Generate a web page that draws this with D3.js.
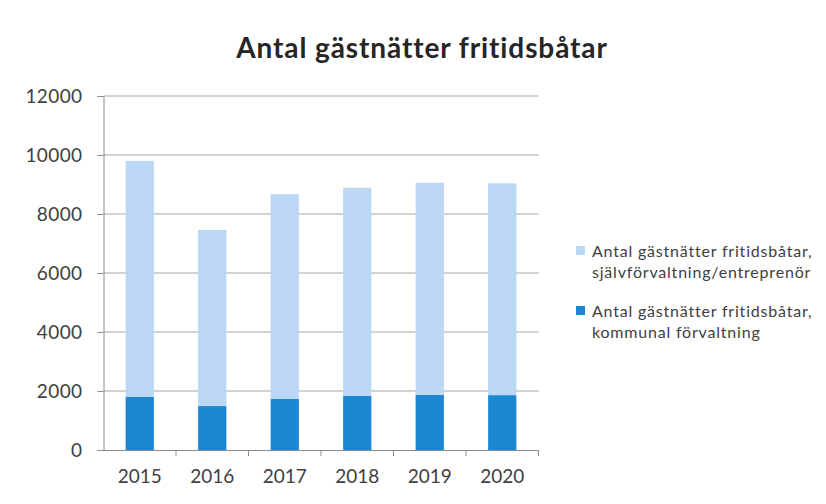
<!DOCTYPE html>
<html>
<head>
<meta charset="utf-8">
<script src="https://cdn.jsdelivr.net/npm/d3@7"></script>
<style>
  body { margin: 0; background: #fff; }
  text { font-family: Lato, "Open Sans", sans-serif; fill: #404040; }
</style>
</head>
<body>
<div id="chart"></div>
<script>
// data
let years = ["2015", "2016", "2017", "2018", "2019", "2020"];
let kommunal = [1800, 1490, 1730, 1830, 1870, 1860];
let sjalv = [8000, 5970, 6940, 7060, 7190, 7180];   // stacked on top of kommunal
let yTicks = [0, 2000, 4000, 6000, 8000, 10000, 12000];
let seriesNames = [
  ["Antal gästnätter fritidsbåtar,", "självförvaltning/entreprenör"],
  ["Antal gästnätter fritidsbåtar,", "kommunal förvaltning"]
];
let colors = ["#bcd6f5", "#1b87d3"];

let width = 826, height = 504;
let plotLeft = 103.5, plotRight = 538.5, plotTop = 96, plotBottom = 450;

let svg = d3.select("#chart").append("svg")
  .attr("width", width).attr("height", height);

let x = d3.scaleBand().domain(years).range([plotLeft, plotRight]);
let y = d3.scaleLinear().domain([0, 12000]).range([plotBottom, plotTop]);
let barW = x.bandwidth() * 0.39;

// title
svg.append("text")
  .attr("x", 422).attr("y", 58)
  .attr("text-anchor", "middle")
  .style("font-size", "28px").style("font-weight", "bold")
  .style("letter-spacing", "0.9px")
  .style("fill", "#262626")
  .text("Antal gästnätter fritidsbåtar");

// gridlines
svg.append("g").selectAll("line").data(yTicks.slice(1)).enter().append("line")
  .attr("x1", plotLeft).attr("x2", plotRight)
  .attr("y1", d => y(d)).attr("y2", d => y(d))
  .attr("stroke", "#a6a6a6").attr("stroke-width", 1);

// bars
let rows = years.map((yr, i) => ({ year: yr, k: kommunal[i], s: sjalv[i] }));
let bars = svg.append("g");
bars.selectAll(".k").data(rows).enter().append("rect")
  .attr("x", d => x(d.year) + (x.bandwidth() - barW) / 2)
  .attr("width", barW)
  .attr("y", d => y(d.k))
  .attr("height", d => y(0) - y(d.k))
  .attr("fill", colors[1]);
bars.selectAll(".s").data(rows).enter().append("rect")
  .attr("x", d => x(d.year) + (x.bandwidth() - barW) / 2)
  .attr("width", barW)
  .attr("y", d => y(d.k + d.s))
  .attr("height", d => y(d.k) - y(d.k + d.s))
  .attr("fill", colors[0]);

// y axis
let yAx = svg.append("g").attr("transform", `translate(${plotLeft},0)`)
  .call(d3.axisLeft(y).tickValues(yTicks).tickSize(6).tickPadding(15).tickFormat(d3.format("d")));
yAx.selectAll("line, path").attr("stroke", "#8c8c8c");
yAx.selectAll("text").style("font-size", "19px").style("letter-spacing", "0.4px");

// x axis: ticks between categories
let xAx = svg.append("g").attr("transform", `translate(0,${plotBottom})`)
  .call(d3.axisBottom(x).tickSize(0).tickPadding(20));
xAx.select("path").attr("stroke", "#8c8c8c").attr("d", `M${plotLeft - 6},0.5H${plotRight}`);
xAx.selectAll("text").style("font-size", "19px");
svg.append("g").selectAll("line").data(years).enter().append("line")
  .attr("x1", d => x(d) + x.bandwidth()).attr("x2", d => x(d) + x.bandwidth())
  .attr("y1", plotBottom).attr("y2", plotBottom + 6)
  .attr("stroke", "#8c8c8c");

// legend
let leg = svg.append("g").attr("transform", "translate(576,246)");
seriesNames.forEach((lines, i) => {
  let g = leg.append("g").attr("transform", `translate(0,${i * 60})`);
  g.append("rect").attr("width", 9).attr("height", 9).attr("fill", colors[i]);
  lines.forEach((t, j) => {
    g.append("text").attr("x", 16).attr("y", 11 + j * 20.5)
      .style("font-size", "16px").style("letter-spacing", "0.8px")
      .text(t);
  });
});
</script>
</body>
</html>
